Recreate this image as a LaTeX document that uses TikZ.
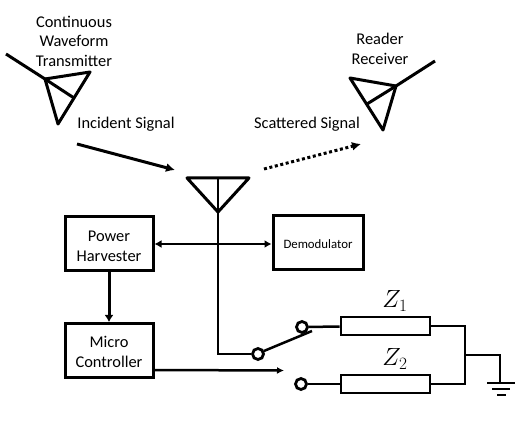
\documentclass[tikz,border=0pt]{standalone}
\usepackage{fontspec}
\setmainfont{Carlito}
\usetikzlibrary{arrows.meta}
\tikzset{
  wire/.style={line width=2.5pt,line join=miter},
  thick wire/.style={line width=3pt},
  block/.style={draw,line width=3pt,minimum width=88pt,minimum height=54pt,inner sep=0pt,align=center,font=\fontsize{16.4}{19.5}\selectfont},
  imp/.style={draw,line width=2.8pt,minimum width=89pt,minimum height=18pt,inner sep=0pt},
  term/.style={circle,draw,line width=2.8pt,minimum size=11pt,inner sep=0pt,fill=white},
  lab/.style={inner sep=0pt,align=center,font=\fontsize{16.4}{19.5}\selectfont},
  zlab/.style={inner sep=0pt,font=\fontsize{26}{28}\selectfont},
}
\begin{document}
\begin{tikzpicture}[x=1pt,y=-1pt]
\useasboundingbox (0,0) rectangle (525,430);
% labels
\node[lab] (tx) at (74,41) {Continuous\\Waveform\\Transmitter};
\node[lab] (rx) at (380,49) {Reader\\Receiver};
\node[lab] (inc) at (126,124) {Incident Signal};
\node[lab] (sca) at (307,124) {Scattered Signal};
% transmitter antenna
\coordinate (ta) at (45,79); \coordinate (tb) at (90,72); \coordinate (tc) at (58,124);
\coordinate (tm) at (74,98); \coordinate (tf) at (6,54);
\draw[thick wire,line join=round] (ta) -- (tb) -- (tc) -- cycle;
\draw[thick wire] (tf) -- (ta) -- (tm);
% receiver antenna
\coordinate (ra) at (396,86); \coordinate (rb) at (350,78); \coordinate (rc) at (383,130);
\coordinate (rm) at (367,104); \coordinate (rf) at (435,61);
\draw[thick wire,line join=round] (ra) -- (rb) -- (rc) -- cycle;
\draw[thick wire] (rf) -- (ra) -- (rm);
% signals
\coordinate (is) at (77,144); \coordinate (ie) at (175,170);
\coordinate (ss) at (264,169); \coordinate (se) at (361,144);
\draw[thick wire,-{Latex[length=9pt,width=9pt]}] (is) -- (ie);
\draw[thick wire,dash pattern=on 3pt off 2.6pt,-{Latex[length=9pt,width=9pt]}] (ss) -- (se);
% tag antenna
\coordinate (al) at (187,178); \coordinate (ar) at (249,178); \coordinate (at) at (218,212); \coordinate (am) at (218,178);
\draw[thick wire,line join=round] (al) -- (ar) -- (at) -- cycle;
% blocks
\node[block] (ph) at (109,243.5) {\rule{0pt}{16pt}Power\\Harvester};
\node[block] (mc) at (109,350.5) {\rule{0pt}{14pt}Micro\\Controller};
\node[block,minimum width=90pt,font=\fontsize{12.8}{15}\selectfont] (de) at (318,243) {\rule{0pt}{11pt}Demodulator};
% switch + impedances
\node[term] (sw) at (258,354) {};
\node[term] (t1) at (302,327) {};
\node[term] (t2) at (301,384) {};
\node[imp] (z1) at (385.5,326) {};
\node[imp] (z2) at (385.5,384) {};
\node[zlab] (z1l) at (395,301) {$Z_1$};
\node[zlab] (z2l) at (395,359) {$Z_2$};
% connectors
\draw[wire] (am) |- (sw.west);
\draw[wire,{Latex[length=7pt,width=8pt]}-{Latex[length=7pt,width=8pt]}] (ph.east |- 0,244) -- (de.west |- 0,244);
\draw[thick wire,-{Latex[length=7pt,width=9pt]}] (ph) -- (mc);
\coordinate (mo) at (153,370); \coordinate (me) at (284,370.5);
\draw[wire,-{Latex[length=7pt,width=7pt]}] (mo) -- (me);
\coordinate (bl) at (312,331);
\draw[wire] (sw) ++(27:6.5pt) -- (bl);
\draw[wire] (t1) -- (z1);
\draw[wire] (t2) -- (z2);
\coordinate (bus1) at (465,326); \coordinate (bus2) at (465,384); \coordinate (busm) at (465,355);
\coordinate (gt) at (500,355); \coordinate (g1) at (500,383);
\draw[wire] (z1) -- (bus1) -- (bus2) -- (z2);
\draw[wire] (busm) -- (gt) -- (g1);
\draw[wire] (487,383) -- (515,383);
\draw[wire] (492,389) -- (510,389);
\draw[wire] (497,395) -- (506,395);
\end{tikzpicture}
\end{document}
